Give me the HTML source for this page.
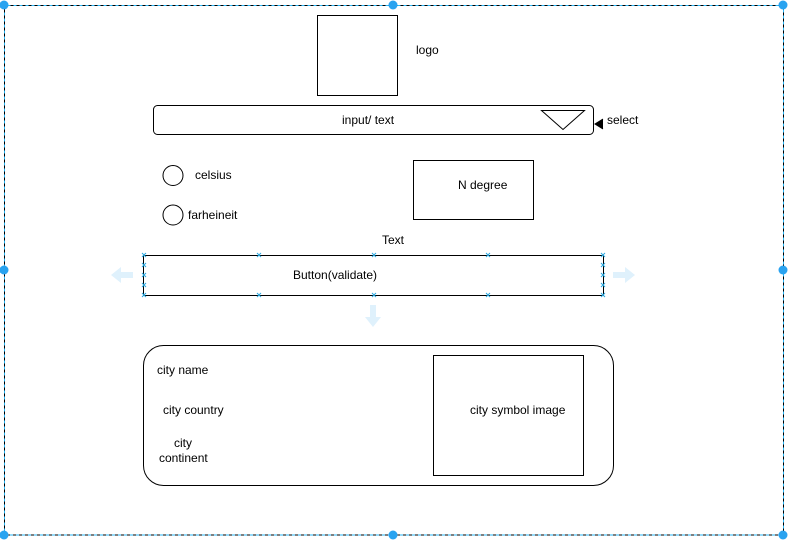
<!DOCTYPE html>
<html><head><meta charset="utf-8"><style>
html,body{margin:0;padding:0;background:#fff;width:788px;height:543px;overflow:hidden}
text{font-family:"Liberation Sans",Arial,sans-serif;font-size:12px;fill:#000}
</style></head><body>
<svg width="788" height="543" viewBox="0 0 788 543" xmlns="http://www.w3.org/2000/svg">
<defs>
<g id="x"><path d="M-2,-2L2,2M2,-2L-2,2" stroke="#29a8e0" stroke-width="1"/></g>
</defs>
<!-- outer dashed frame -->
<rect x="4.5" y="5.5" width="779" height="529.5" fill="none" stroke="#29b6f6" stroke-width="1"/>
<rect x="4.5" y="5.5" width="779" height="529.5" fill="none" stroke="#000" stroke-width="1" stroke-dasharray="3,3"/>
<g fill="#29a3f0">
<circle cx="4" cy="5" r="4.5"/><circle cx="393" cy="5" r="4.5"/><circle cx="783" cy="5" r="4.5"/>
<circle cx="4" cy="270" r="4.5"/><circle cx="783" cy="270" r="4.5"/>
<circle cx="4" cy="535" r="4.5"/><circle cx="393" cy="535" r="4.5"/><circle cx="783" cy="535" r="4.5"/>
</g>
<!-- logo -->
<rect x="317.5" y="15.5" width="80" height="80" fill="none" stroke="#000"/>
<text x="416" y="54">logo</text>
<!-- input -->
<rect x="153.5" y="105.5" width="440" height="29" rx="4" fill="none" stroke="#000"/>
<text x="342" y="124">input/ text</text>
<path d="M541.5,110.5L584.5,110.5L563,129.5Z" fill="none" stroke="#000"/>
<path d="M603,119L595,124L603,129" fill="#000" stroke="#000"/>
<path d="M595,124L603,124" stroke="#000"/>
<text x="607" y="124">select</text>
<!-- radios -->
<circle cx="173" cy="175.5" r="10" fill="none" stroke="#000"/>
<text x="195" y="179">celsius</text>
<circle cx="173" cy="215" r="10" fill="none" stroke="#000"/>
<text x="188" y="219">farheineit</text>
<!-- N degree -->
<rect x="413.5" y="160.5" width="120" height="59" fill="none" stroke="#000"/>
<text x="458" y="189">N degree</text>
<text x="382" y="244">Text</text>
<!-- button -->
<rect x="143.5" y="255.5" width="460" height="40" fill="none" stroke="#000"/>
<text x="293" y="279">Button(validate)</text>
<g>
<use href="#x" x="144" y="255"/><use href="#x" x="259" y="255"/><use href="#x" x="374" y="255"/><use href="#x" x="488" y="255"/><use href="#x" x="603" y="255"/>
<use href="#x" x="144" y="295"/><use href="#x" x="259" y="295"/><use href="#x" x="374" y="295"/><use href="#x" x="488" y="295"/><use href="#x" x="603" y="295"/>
<use href="#x" x="144" y="265"/><use href="#x" x="144" y="275"/><use href="#x" x="144" y="285"/>
<use href="#x" x="603" y="265"/><use href="#x" x="603" y="275"/><use href="#x" x="603" y="285"/>
</g>
<g fill="#dff1fc">
<path d="M111,275L121,267L121,272L133,272L133,278L121,278L121,283Z"/>
<path d="M635,275L625,267L625,272L613,272L613,278L625,278L625,283Z"/>
<path d="M373,327L365,317L370,317L370,305L376,305L376,317L381,317Z"/>
</g>
<!-- city card -->
<rect x="143.5" y="345.5" width="470" height="140" rx="20" fill="none" stroke="#000"/>
<text x="157" y="374">city name</text>
<text x="163" y="414">city country</text>
<text x="174" y="447">city</text>
<text x="159" y="462">continent</text>
<rect x="433.5" y="355.5" width="150" height="120" fill="none" stroke="#000"/>
<text x="470" y="414">city symbol image</text>
</svg>
</body></html>
